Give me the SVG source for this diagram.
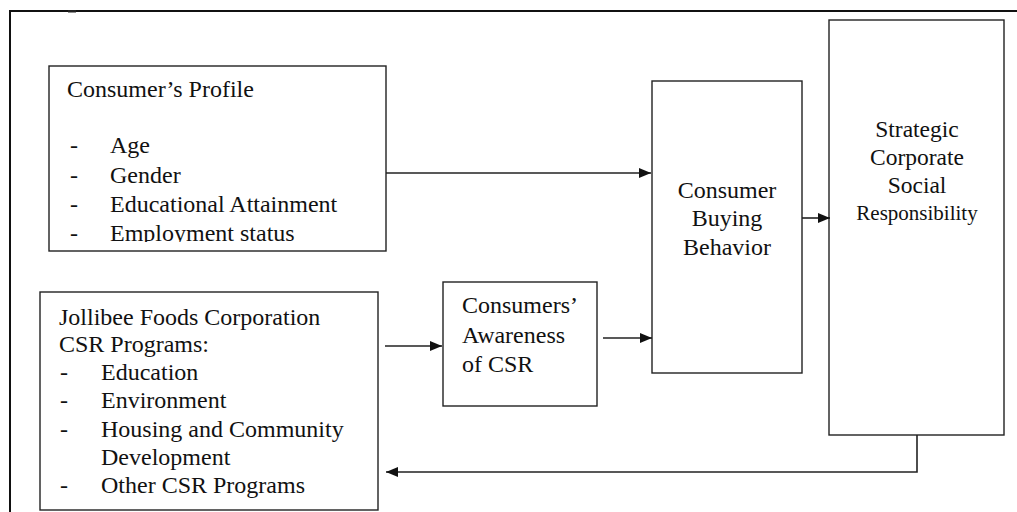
<svg xmlns="http://www.w3.org/2000/svg" width="1017" height="512" viewBox="0 0 1017 512">
<style>
.box{fill:#fff;stroke:#222;stroke-width:1.4}
.frame{fill:none;stroke:#111;stroke-width:2}
text{font-family:'Liberation Serif','Times New Roman',Times,serif;font-size:24px;fill:#111}
#strategic text{font-size:23.5px}
#strategic text.s{font-size:21px}
.c text{text-anchor:middle}
.ln{fill:none;stroke:#222;stroke-width:1.6}
</style>
<defs>
<marker id="ah" viewBox="0 0 12 10" refX="12" refY="5" markerWidth="12" markerHeight="10" markerUnits="userSpaceOnUse" orient="auto">
<path d="M0,0 L12,5 L0,10 Z" fill="#111"/>
</marker>
<clipPath id="clipProfile"><rect x="49" y="66" width="337" height="176"/></clipPath>
</defs>
<rect width="1017" height="512" fill="#fff"/>
<g id="frame">
<path class="frame" d="M10,512 V11 H1017"/>
<rect x="68" y="10" width="8" height="2.5" fill="#222"/>
</g>
<g id="profile">
<rect class="box" x="49" y="66" width="337" height="185"/>
<g clip-path="url(#clipProfile)">
<text x="67" y="97">Consumer’s Profile</text>
<text x="70" y="153">-</text><text x="110" y="153">Age</text>
<text x="70" y="183">-</text><text x="110" y="183">Gender</text>
<text x="70" y="212">-</text><text x="110" y="212">Educational Attainment</text>
<text x="70" y="241">-</text><text x="110" y="241">Employment status</text>
</g>
</g>
<g id="jollibee">
<rect class="box" x="40" y="292" width="338" height="218"/>
<text x="59" y="325">Jollibee Foods Corporation</text>
<text x="59" y="352">CSR Programs:</text>
<text x="60" y="380">-</text><text x="101" y="380">Education</text>
<text x="60" y="408">-</text><text x="101" y="408">Environment</text>
<text x="60" y="437">-</text><text x="101" y="437">Housing and Community</text>
<text x="101" y="465">Development</text>
<text x="60" y="493">-</text><text x="101" y="493">Other CSR Programs</text>
</g>
<g id="awareness">
<rect class="box" x="443" y="282" width="154" height="124"/>
<text x="462" y="313">Consumers’</text>
<text x="462" y="343">Awareness</text>
<text x="462" y="372">of CSR</text>
</g>
<g id="buying" class="c">
<rect class="box" x="652" y="81" width="150" height="292"/>
<text x="727" y="198">Consumer</text>
<text x="727" y="226">Buying</text>
<text x="727" y="255">Behavior</text>
</g>
<g id="strategic" class="c">
<rect class="box" x="829" y="20" width="175" height="415"/>
<text x="917" y="137">Strategic</text>
<text x="917" y="165">Corporate</text>
<text x="917" y="193">Social</text>
<text x="917" y="220" class="s">Responsibility</text>
</g>
<g id="connectors">
<path class="ln" d="M386,173 H651" marker-end="url(#ah)"/>
<path class="ln" d="M385,346 H442" marker-end="url(#ah)"/>
<path class="ln" d="M603,338 H652" marker-end="url(#ah)"/>
<path class="ln" d="M802,218 H830" marker-end="url(#ah)"/>
<path class="ln" d="M917,435 V472 H386" marker-end="url(#ah)"/>
</g>
</svg>
